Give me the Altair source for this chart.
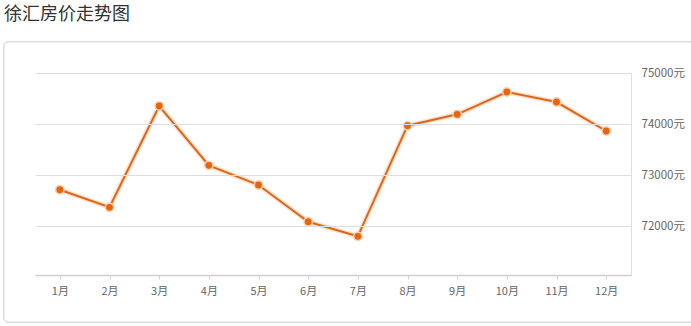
import altair as alt
import pandas as pd

months = ["1月", "2月", "3月", "4月", "5月", "6月", "7月", "8月", "9月", "10月", "11月", "12月"]
prices = [72712, 72367, 74353, 73190, 72804, 72084, 71798, 73967, 74190, 74627, 74431, 73863]
y_ticks = [72000, 73000, 74000, 75000]

df = pd.DataFrame({"month": months, "price": prices})

FONT = "Noto Sans CJK SC"
LINE = "#DD661E"
POINT = "#E8640E"

x_enc = alt.X("month:N", sort=months, scale=alt.Scale(type="point", padding=0.5),
              axis=alt.Axis(title=None, labelAngle=0, labelFont=FONT, labelFontSize=11,
                            labelColor="#666666", domainColor="#d0d0d0", domainWidth=1.5,
                            tickColor="#d0d0d0", tickSize=4, labelPadding=6, grid=False,
                            zindex=1))
y_enc = alt.Y("price:Q", scale=alt.Scale(domain=[71040, 75000], nice=False, zero=False),
              axis=alt.Axis(title=None, orient="right", values=y_ticks, format="d",
                            labelExpr="datum.label + '元'", labelFont=FONT, labelFontSize=11.5,
                            labelColor="#666666", labelPadding=10, ticks=False,
                            domainColor="#dedede", gridColor="#dedede", grid=True,
                            zindex=1))

card = alt.Chart(df).mark_rect(fill="white", stroke="#dcdcdc", strokeWidth=1, cornerRadius=4).encode(
    x=alt.value(-31), x2=alt.value(658), y=alt.value(-31), y2=alt.value(249)
)

base = alt.Chart(df).encode(x=x_enc, y=y_enc)
glow = base.mark_line(color="#F9C89A", strokeWidth=5, opacity=0.5)
line = base.mark_line(color=LINE, strokeWidth=2)
pts = base.mark_point(filled=True, size=70, color=POINT, opacity=1, stroke="#FAD2B0", strokeWidth=1.5)

chart = alt.layer(card, glow, line, pts).properties(
    width=596, height=202,
    autosize=alt.AutoSizeParams(type="none"),
    padding={"left": 35, "top": 73, "right": 60, "bottom": 51},
    title=alt.TitleParams("徐汇房价走势图", anchor="start", frame="group", font=FONT,
                          fontSize=18, fontWeight="normal", color="#333333",
                          dx=-31, offset=0, baseline="bottom"),
).configure_view(stroke=None).configure(background="white")

chart.save("out.html", embed_options={"renderer": "svg", "actions": False})
